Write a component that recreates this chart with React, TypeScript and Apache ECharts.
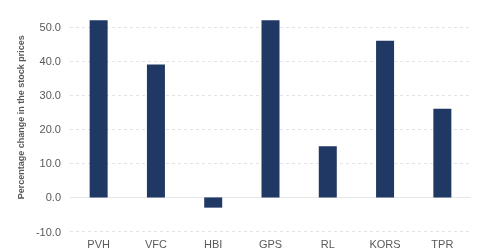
import React, { useEffect, useRef } from "react";
import * as echarts from "echarts";

const categories = ["PVH", "VFC", "HBI", "GPS", "RL", "KORS", "TPR"];
const changes = [52, 39, -3, 52, 15, 46, 26];
const yMin = -10;
const yMax = 50;
const yInterval = 10;
const yAxisTitle = "Percentage change in the stock prices";

export default function App() {
  const ref = useRef<HTMLDivElement>(null);
  useEffect(() => {
    if (!ref.current) return;
    const chart = echarts.init(ref.current, null, { renderer: "svg" });
    chart.setOption({
      animation: false,
      grid: { left: 70, right: 9, top: 27, bottom: 19.5, containLabel: false },
      xAxis: {
        type: "category",
        data: categories,
        axisLine: { show: false },
        axisTick: { show: false },
        axisLabel: {
          color: "#595959",
          fontSize: 11,
          fontFamily: "Liberation Sans, Arial, sans-serif",
          margin: 7,
        },
      },
      yAxis: {
        type: "value",
        min: yMin,
        max: yMax,
        interval: yInterval,
        name: yAxisTitle,
        nameLocation: "middle",
        nameGap: 45,
        nameTextStyle: {
          color: "#595959",
          fontSize: 9,
          fontWeight: "bold",
          fontFamily: "Liberation Sans, Arial, sans-serif",
          padding: [0, 0, 0, 24],
        },
        axisLine: { show: false },
        axisTick: { show: false },
        axisLabel: {
          color: "#595959",
          fontSize: 11,
          fontFamily: "Liberation Sans, Arial, sans-serif",
          margin: 9,
          formatter: (v: number) => v.toFixed(1),
        },
        splitLine: {
          lineStyle: { color: "#e3e3e3", type: [3, 3], width: 1 },
        },
      },
      series: [
        {
          type: "bar",
          data: changes,
          barWidth: 18,
          clip: false,
          itemStyle: { color: "#1f3864" },
          markLine: {
            silent: true,
            symbol: "none",
            label: { show: false },
            lineStyle: { color: "#e6e6e6", type: "solid", width: 1 },
            data: [{ yAxis: 0 }],
            z: 1,
          },
        },
      ],
    });
    return () => chart.dispose();
  }, []);
  return (
    <div
      ref={ref}
      style={{ position: "fixed", left: 0, top: 0, width: 480, height: 251 }}
    />
  );
}
